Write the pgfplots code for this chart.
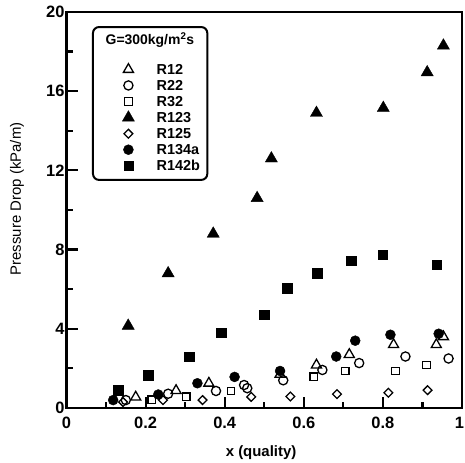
\documentclass[border=0pt]{standalone}
\usepackage{pgfplots}
\pgfplotsset{compat=1.18}
\usepackage{fontspec}
\setmainfont{Liberation Sans}
\begin{document}
\begin{tikzpicture}
\useasboundingbox (-66.5bp,-55bp) rectangle (398.5bp,408bp);
\begin{axis}[
  scale only axis, width=395.5bp, height=396bp,
  xmin=0, xmax=1, ymin=0, ymax=20,
  xtick={0,0.2,0.4,0.6,0.8,1}, minor x tick num=1,
  xticklabels={0,0.2,0.4,0.6,0.8,\hspace{-5bp}1},
  ytick={0,4,8,12,16,20}, minor y tick num=1,
  xtick pos=left, ytick pos=left,
  tick align=inside,
  major tick length=11bp, minor tick length=6bp,
  every tick/.style={line width=2.2bp, black},
  axis line style={line width=2.8bp},
  /pgf/number format/assume math mode=true,
  tick label style={font=\bfseries\fontsize{16.5}{16.5}\selectfont},
  xticklabel style={yshift=-6bp},
  yticklabel style={xshift=1.5bp},
  xlabel={x (quality)}, ylabel={Pressure Drop (kPa/m)},
  every axis x label/.style={at={(axis description cs:0.492,-0.113)},anchor=center,font=\bfseries\fontsize{15}{15}\selectfont},
  every axis y label/.style={at={(axis description cs:-0.125,0.528)},rotate=90,anchor=center,font=\fontsize{15}{15}\selectfont},
  legend style={at={(axis cs:0.105,17.55)}, anchor=north west, draw=none, fill=none,
    font=\bfseries\fontsize{14.5}{14.5}\selectfont, row sep=2.5bp,
    nodes={inner sep=1bp, text height=10.5bp, text depth=1bp}},
  legend cell align=left,
  legend image code/.code={\path (0bp,0bp) (44bp,0bp); \draw[#1] plot coordinates {(17bp,0cm)};},
]
\addplot[only marks, mark=triangle, mark size=5.8bp, mark options={line width=1.3bp, fill=white, draw=black}] coordinates {
(0.175,0.55) (0.277,0.88) (0.36,1.25) (0.54,1.7) (0.632,2.17) (0.715,2.7) (0.827,3.2) (0.935,3.2) (0.953,3.6)};
\addlegendentry{R12}
\addplot[only marks, mark=o, mark size=4.6bp, mark options={line width=1.3bp, fill=white, draw=black}] coordinates {
(0.15,0.4) (0.257,0.72) (0.378,0.86) (0.449,1.16) (0.457,1.0) (0.548,1.4) (0.647,1.92) (0.74,2.27) (0.857,2.6) (0.966,2.5)};
\addlegendentry{R22}
\addplot[only marks, mark=square, mark size=3.8bp, mark options={line width=1.3bp, fill=white, draw=black}] coordinates {
(0.216,0.42) (0.303,0.56) (0.416,0.86) (0.625,1.57) (0.705,1.87) (0.832,1.87) (0.91,2.17)};
\addlegendentry{R32}
\addplot[only marks, mark=triangle*, mark size=7bp, mark options={fill=black, draw=black}] coordinates {
(0.156,4.15) (0.257,6.8) (0.371,8.8) (0.482,10.6) (0.518,12.6) (0.632,14.9) (0.801,15.15) (0.912,16.95) (0.953,18.3)};
\addlegendentry{R123}
\addplot[only marks, mark=square, mark size=3.1bp, mark options={rotate=45, line width=1.3bp, fill=white, draw=black}] coordinates {
(0.143,0.3) (0.244,0.4) (0.344,0.4) (0.467,0.56) (0.566,0.58) (0.684,0.7) (0.814,0.77) (0.913,0.9)};
\addlegendentry{R125}
\addplot[only marks, mark=*, mark size=5bp, mark options={fill=black, draw=black}] coordinates {
(0.118,0.4) (0.232,0.68) (0.331,1.25) (0.425,1.57) (0.54,1.87) (0.682,2.6) (0.73,3.4) (0.819,3.7) (0.941,3.75)};
\addlegendentry{R134a}
\addplot[only marks, mark=square*, mark size=4.7bp, mark options={fill=black, draw=black}] coordinates {
(0.131,0.9) (0.207,1.65) (0.31,2.6) (0.391,3.8) (0.50,4.7) (0.558,6.05) (0.634,6.8) (0.72,7.45) (0.799,7.75) (0.936,7.25)};
\addlegendentry{R142b}
\draw[line width=2bp, rounded corners=6bp] (axis cs:0.067,19.24) rectangle (axis cs:0.356,11.52);
\node[font=\bfseries\fontsize{14}{14}\selectfont] at (axis cs:0.211,18.59) {G=300kg/m\textsuperscript{2}s};
\end{axis}
\end{tikzpicture}
\end{document}
